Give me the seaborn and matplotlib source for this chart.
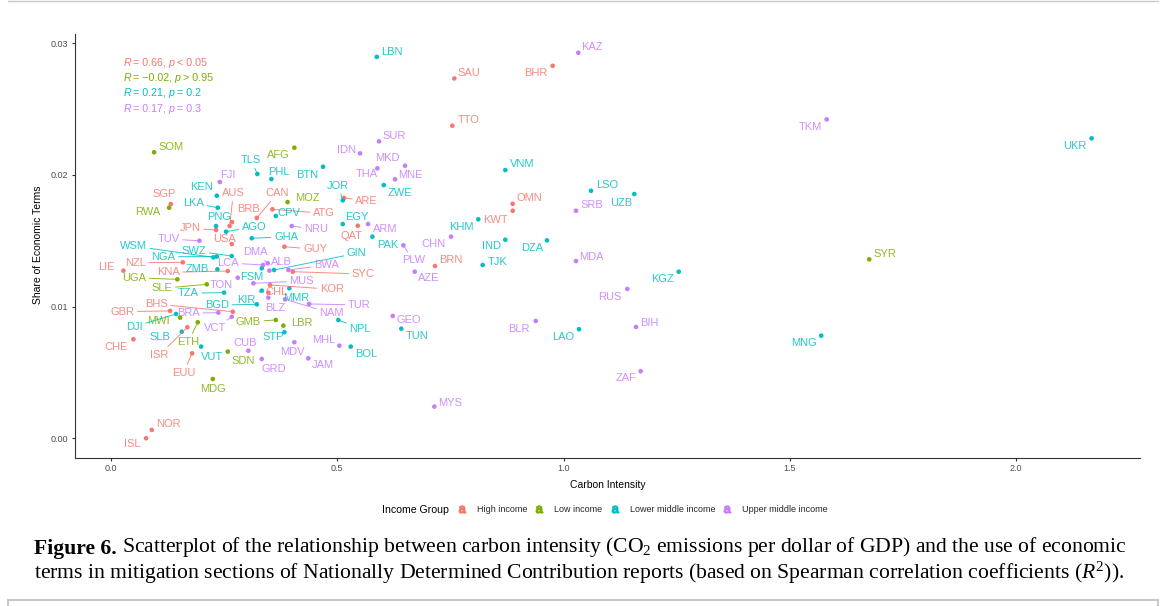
import matplotlib
matplotlib.use("Agg")
import matplotlib.pyplot as plt
import matplotlib.text as mtext
import seaborn as sns
import pandas as pd
from matplotlib.lines import Line2D

# ---------------- data ----------------
high_codes = ["SAU", "BHR", "TTO", "OMN", "KWT", "ARE", "QAT", "BRN", "GUY", "SYC",
              "KOR", "CHL", "CAN", "ATG", "BRB", "AUS", "JPN", "USA", "SGP", "NZL",
              "KNA", "LIE", "BHS", "GBR", "CHE", "ISR", "EUU", "NOR", "ISL"]
high_ci = [0.7587, 0.9761, 0.7543, 0.8877, 0.8877, 0.5149, 0.5452, 0.7160, 0.3830, 0.4015,
           0.3514, 0.3476, 0.3220, 0.3565, 0.2674, 0.2619, 0.2320, 0.2667, 0.1319, 0.1585,
           0.2579, 0.0272, 0.2690, 0.1304, 0.0493, 0.1686, 0.1790, 0.0899, 0.0773]
high_share = [0.02733, 0.02829, 0.02374, 0.01781, 0.01728, 0.01825, 0.01614, 0.01308, 0.01455, 0.01265,
              0.01164, 0.01106, 0.01673, 0.01739, 0.01642, 0.01612, 0.01582, 0.01475, 0.01779, 0.01336,
              0.01270, 0.01273, 0.00961, 0.00967, 0.00752, 0.00843, 0.00645, 0.00063, 0.00000]

low_codes = ["SOM", "AFG", "RWA", "MOZ", "UGA", "SLE", "MWI", "ETH", "GMB", "LBR", "SDN", "MDG", "SYR"]
low_ci = [0.0950, 0.4051, 0.1282, 0.3901, 0.1465, 0.2115, 0.1525, 0.1916, 0.3640, 0.3808, 0.2579, 0.2248, 1.6758]
low_share = [0.02172, 0.02207, 0.01751, 0.01794, 0.01207, 0.01169, 0.00916, 0.00881, 0.00898, 0.00855,
             0.00658, 0.00450, 0.01359]

lmid_codes = ["LBN", "TLS", "PHL", "BTN", "KEN", "LKA", "PNG", "CPV", "AGO", "JOR",
              "EGY", "GHA", "WSM", "NGA", "SWZ", "ZMB", "GIN", "FSM", "TZA", "KIR",
              "BGD", "MMR", "STP", "DJI", "SLB", "VUT", "NPL", "BOL", "TUN", "PAK",
              "ZWE", "VNM", "KHM", "IND", "TJK", "DZA", "LAO", "LSO", "UZB", "KGZ",
              "MNG", "UKR"]
lmid_ci = [0.5872, 0.3233, 0.3543, 0.4685, 0.2336, 0.2358, 0.2320, 0.3640, 0.2541, 0.5120,
           0.5120, 0.3109, 0.2261, 0.2336, 0.2667, 0.2349, 0.3602, 0.3330, 0.2497, 0.3330,
           0.3220, 0.3940, 0.3830, 0.1436, 0.1562, 0.1989, 0.5023, 0.5297, 0.6415, 0.5775,
           0.6027, 0.8714, 0.8117, 0.8714, 0.8214, 0.9635, 1.0343, 1.0608, 1.1565, 1.2546,
           1.5697, 2.1673]
lmid_share = [0.02897, 0.02007, 0.01969, 0.02062, 0.01842, 0.01751, 0.01612, 0.01688, 0.01569, 0.01807,
              0.01627, 0.01519, 0.01374, 0.01380, 0.01384, 0.01283, 0.01278, 0.01291, 0.01106, 0.01121,
              0.01017, 0.01139, 0.00805, 0.00944, 0.00809, 0.00696, 0.00898, 0.00696, 0.00832, 0.01531,
              0.01923, 0.02037, 0.01663, 0.01508, 0.01316, 0.01503, 0.00828, 0.01880, 0.01855, 0.01265,
              0.00779, 0.02278]

umid_codes = ["KAZ", "SUR", "IDN", "THA", "MKD", "MNE", "FJI", "TUV", "NRU", "ARM",
              "CHN", "PLW", "AZE", "DMA", "LCA", "ALB", "BWA", "TON", "MUS", "BLZ",
              "NAM", "TUR", "VCT", "BRA", "CUB", "GRD", "MDV", "MHL", "JAM", "GEO",
              "SRB", "MDA", "BLR", "RUS", "BIH", "ZAF", "TKM", "MYS"]
umid_ci = [1.0327, 0.5923, 0.5503, 0.5885, 0.6497, 0.6276, 0.2402, 0.1951, 0.3993, 0.5680,
           0.7514, 0.6460, 0.6712, 0.3463, 0.3359, 0.3498, 0.3918, 0.2800, 0.3145, 0.3476,
           0.3845, 0.4376, 0.2667, 0.2371, 0.3034, 0.3330, 0.4051, 0.5045, 0.4360, 0.6225,
           1.0276, 1.0276, 0.9386, 1.1410, 1.1602, 1.1706, 1.5817, 0.7145]
umid_share = [0.02928, 0.02255, 0.02164, 0.02050, 0.02070, 0.01967, 0.01946, 0.01500, 0.01612, 0.01627,
              0.01531, 0.01465, 0.01265, 0.01329, 0.01316, 0.01273, 0.01278, 0.01219, 0.01177, 0.01068,
              0.01055, 0.01020, 0.00923, 0.00954, 0.00665, 0.00602, 0.00729, 0.00703, 0.00607, 0.00929,
              0.01728, 0.01346, 0.00891, 0.01134, 0.00845, 0.00509, 0.02422, 0.00240]

groups = ["High income", "Low income", "Lower middle income", "Upper middle income"]
stat_lines = [("0.66", "< 0.05"), ("\u22120.02", "> 0.95"), ("0.21", "= 0.2"), ("0.17", "= 0.3")]

x_ticks = [0.0, 0.5, 1.0, 1.5, 2.0]
x_ticklabels = ["0.0", "0.5", "1.0", "1.5", "2.0"]
y_ticks = [0.00, 0.01, 0.02, 0.03]
y_ticklabels = ["0.00", "0.01", "0.02", "0.03"]

# ---------------- label layout (pixel offsets of label centre from point, y downward) ----------------
label_offsets = {
    "SAU": (14.7, -5.3), "BHR": (-17, 7.6), "TTO": (16, -5.7), "OMN": (16.6, -5.4), "KWT": (-17.7, 9.3),
    "ARE": (22.7, 2.7), "QAT": (-6, 10.3), "BRN": (16, -6), "GUY": (30.7, 2.6), "SYC": (70.6, 2.3),
    "KOR": (61.7, 4.3), "CHL": (8, -1), "CAN": (20.6, -24.7), "ATG": (51.7, 4), "BRB": (16.3, -13),
    "AUS": (3.8, -32.7), "JPN": (-26, -1.7), "USA": (-7.7, -5), "SGP": (-6.4, -9.7), "NZL": (-47.7, 0.4),
    "KNA": (-59.4, 1.3), "LIE": (-16.6, -4), "BHS": (-76.7, -7.7), "GBR": (-47.7, 0.7), "CHE": (-17.6, 7.4),
    "ISR": (-28, 27.7), "EUU": (-8.7, 19.4), "NOR": (16.6, -6), "ISL": (-13.7, 6),
    "SOM": (16.7, -5.6), "AFG": (-16, 7.3), "RWA": (-21.3, 4.6), "MOZ": (19.8, -4.3), "UGA": (-43.3, -1.6),
    "SLE": (-45, 4), "MWI": (-21.7, 3), "ETH": (-9.4, 19.4), "GMB": (-27.4, 1.7), "LBR": (18.4, -2.4),
    "SDN": (15.6, 9), "MDG": (0.6, 10), "SYR": (15.7, -5.3),
    "LBN": (15, -4.4), "TLS": (-6.3, -14), "PHL": (7, -7.3), "BTN": (-16.3, 8.3), "KEN": (-15, -9),
    "LKA": (-24.4, -4.7), "PNG": (3, -8.7), "CPV": (13.3, -2.7), "AGO": (28.3, -5), "JOR": (-4.4, -14.3),
    "EGY": (14, -7.3), "GHA": (34.3, -1.6), "WSM": (-80, -11.3), "NGA": (-53.4, 0.2), "SWZ": (-37.7, -5.3),
    "ZMB": (-20.6, 0), "GIN": (82.7, -16.7), "FSM": (-9.7, 8.4), "TZA": (-35.7, 0.6), "KIR": (-15, 9.3),
    "BGD": (-40, 0.7), "MMR": (7.4, 10), "STP": (-11, 4.4), "DJI": (-41.7, 12.7), "SLB": (-21.7, 5),
    "VUT": (10.7, 10), "NPL": (21.7, 9), "BOL": (15.3, 7.3), "TUN": (15.4, 7), "PAK": (15, 8.3),
    "ZWE": (16.3, 8.3), "VNM": (16.4, -5.7), "KHM": (-16.6, 7.4), "IND": (-14.3, 6.3), "TJK": (14.6, -3.3),
    "DZA": (-15.3, 8), "LAO": (-15.7, 7.4), "LSO": (15.7, -5.7), "UZB": (-13.6, 9.3), "KGZ": (-16, 7.3),
    "MNG": (-17.3, 7.3), "UKR": (-16.7, 7.7),
    "KAZ": (14, -6), "SUR": (15, -5.6), "IDN": (-14, -3.3), "THA": (-10.6, 5.7), "MKD": (-17.3, -7.4),
    "MNE": (15, -4.3), "FJI": (8, -7), "TUV": (-31, -1.7), "NRU": (24.3, 3.3), "ARM": (17, 5),
    "CHN": (-17.7, 7.3), "PLW": (10, 14.7), "AZE": (13.6, 6.6), "DMA": (-12.7, -11), "LCA": (-34.7, -2),
    "ALB": (12.4, -9), "BWA": (38.4, -5), "TON": (-16, 7.3), "MUS": (48.4, -2.3), "BLZ": (6.7, 10.6),
    "NAM": (46.7, 14), "TUR": (50.3, 1), "VCT": (-16.7, 11.6), "BRA": (-30, 0.6), "CUB": (-3.3, -7.4),
    "GRD": (11.6, 10), "MDV": (-1.6, 9.4), "MHL": (-16, -5.7), "JAM": (14.4, 6.7), "GEO": (15.6, 4),
    "SRB": (15.7, -5.7), "MDA": (15, -4.3), "BLR": (-16.7, 8), "RUS": (-17.3, 7.7), "BIH": (13, -4.3),
    "ZAF": (-14.7, 7), "TKM": (-16.7, 7.4), "MYS": (15.7, -4),
}
segment_codes = {"ARE", "GUY", "SYC", "KOR", "CAN", "ATG", "AUS", "JPN", "NZL", "KNA", "BHS", "GBR",
                 "ISR", "EUU", "UGA", "SLE", "ETH", "GMB", "TLS", "LKA", "AGO", "JOR", "GHA", "WSM",
                 "NGA", "SWZ", "GIN", "TZA", "KIR", "BGD", "DJI", "NPL", "TUV", "NRU", "PLW", "DMA",
                 "LCA", "BWA", "MUS", "NAM", "TUR", "VCT", "BRA"}

palette = {"High income": "#F8766D", "Low income": "#7CAE00",
           "Lower middle income": "#00BFC4", "Upper middle income": "#C77CFF"}

# ---------------- build dataframe ----------------
frames = []
for g, c, xv, yv in zip(groups,
                        [high_codes, low_codes, lmid_codes, umid_codes],
                        [high_ci, low_ci, lmid_ci, umid_ci],
                        [high_share, low_share, lmid_share, umid_share]):
    frames.append(pd.DataFrame({"code": c, "ci": xv, "share": yv, "group": g}))
df = pd.concat(frames, ignore_index=True)

# ---------------- style ----------------
sns.set_style("ticks")
plt.rcParams["font.family"] = ["Liberation Sans", "DejaVu Sans"]
plt.rcParams["mathtext.fontset"] = "custom"
plt.rcParams["mathtext.rm"] = "Liberation Serif"
plt.rcParams["mathtext.it"] = "Liberation Serif:italic"
plt.rcParams["mathtext.bf"] = "Liberation Serif:bold"
plt.rcParams["mathtext.sf"] = "Liberation Sans"

W, H = 1167, 606
fig = plt.figure(figsize=(W / 100, H / 100), dpi=100)
fig.patch.set_facecolor("white")
ax_l, ax_r, ax_t, ax_b = 75, 1140, 33.5, 457.5
ax = fig.add_axes([ax_l / W, 1 - ax_b / H, (ax_r - ax_l) / W, (ax_b - ax_t) / H])

sns.scatterplot(data=df, x="ci", y="share", hue="group", palette=palette, s=11,
                linewidth=0, legend=False, ax=ax, zorder=3)

# ggplot-like 5% expansion
xmin, xmax = df["ci"].min(), df["ci"].max()
ymin, ymax = df["share"].min(), df["share"].max()
ax.set_xlim(xmin - 0.05 * (xmax - xmin), xmax + 0.05 * (xmax - xmin))
ax.set_ylim(ymin - 0.05 * (ymax - ymin), ymax + 0.05 * (ymax - ymin))

sns.despine(ax=ax)
for sp in ["left", "bottom"]:
    ax.spines[sp].set_color("#333333")
    ax.spines[sp].set_linewidth(0.8)
ax.set_xticks(x_ticks)
ax.set_xticklabels(x_ticklabels)
ax.set_yticks(y_ticks)
ax.set_yticklabels(y_ticklabels)
ax.tick_params(axis="both", length=2.5, width=0.8, color="#333333", labelcolor="#4D4D4D",
               labelsize=6.5, pad=2.5)
ax.set_xlabel("Carbon Intensity", fontsize=7.5, color="black")
ax.set_ylabel("Share of Economic Terms", fontsize=7.5, color="black")
ax.xaxis.set_label_coords((607.5 - ax_l) / (ax_r - ax_l), (ax_b - 480) / (ax_b - ax_t))
ax.yaxis.set_label_coords((43 - ax_l) / (ax_r - ax_l), (ax_b - 245) / (ax_b - ax_t))

# ---------------- point labels ----------------
for _, row in df.iterrows():
    col = palette[row["group"]]
    dx, dy = label_offsets[row["code"]]
    kw = dict(xy=(row["ci"], row["share"]), xytext=(dx, -dy), textcoords="offset pixels",
              ha="center", va="center", fontsize=8, color=col, alpha=0.85, zorder=4)
    if row["code"] in segment_codes:
        kw["arrowprops"] = dict(arrowstyle="-", color=col, lw=0.7, shrinkA=0, shrinkB=0, alpha=0.85)
    ax.annotate(row["code"], **kw)


# ---------------- helper: run of text pieces with mixed styles ----------------
def chain_text(x_px, y_px, pieces, size, color, family=None):
    kw = dict(fontsize=size, color=color)
    if family:
        kw["family"] = family
    t0, st0, wt0, _ = pieces[0]
    prev = fig.text(x_px / W, 1 - y_px / H, t0, ha="left", va="baseline", style=st0, weight=wt0, **kw)
    for txt, st, wt, gap in pieces[1:]:
        prev = fig.add_artist(mtext.Annotation(
            txt, xy=(1, 0), xycoords=prev, xytext=(gap, 0), textcoords="offset pixels",
            ha="left", va="bottom", style=st, weight=wt, annotation_clip=False, **kw))
    return prev


# ---------------- correlation statistics ----------------
sp = 2.4
stat_y = [65.5, 80.8, 95.9, 111.5]
for g, (r, p), yy in zip(groups, stat_lines, stat_y):
    chain_text(123.3, yy, [("R", "italic", "normal", 0), ("= " + r + ",", "normal", "normal", sp),
                           ("p", "italic", "normal", sp), (p, "normal", "normal", sp)],
               7.7, palette[g])

# ---------------- legend ----------------
fig.text(382.3 / W, 1 - 510 / H, "Income Group", ha="left", va="center", fontsize=7.6, color="black")
handles = [Line2D([], [], marker=r"$\mathsf{a}$", linestyle="none", color=palette[g], markersize=5)
           for g in groups]
fig.legend(handles, groups, loc="center left", bbox_to_anchor=(457.2 / W, 1 - 510 / H),
           ncol=4, frameon=False, fontsize=6.5, handlelength=1.0, handletextpad=1.16,
           columnspacing=0.85, borderpad=0, borderaxespad=0)

# ---------------- caption ----------------
cap_fs = 15.6
chain_text(34, 554, [("Figure 6.", "normal", "bold", 0),
                     ("Scatterplot of the relationship between carbon intensity (CO$_2$ emissions per dollar "
                      "of GDP) and the use of economic", "normal", "normal", 5.5)],
           cap_fs, "black", family="Liberation Serif")
fig.text(34 / W, 1 - 579 / H,
         "terms in mitigation sections of Nationally Determined Contribution reports (based on Spearman "
         "correlation coefficients ($R^2$)).",
         ha="left", va="baseline", fontsize=cap_fs, color="black", family="Liberation Serif")

# ---------------- page frame ----------------
frame_col = "#C8C8C8"
fig.add_artist(Line2D([8 / W, 8 / W], [0, 1 - 600 / H], color=frame_col, lw=1.5))
fig.add_artist(Line2D([1158 / W, 1158 / W], [0, 1 - 600 / H], color=frame_col, lw=1.5))
fig.add_artist(Line2D([8 / W, 1158 / W], [1 - 600 / H, 1 - 600 / H], color=frame_col, lw=1.5))
fig.add_artist(Line2D([8 / W, 1158 / W], [1 - 1 / H, 1 - 1 / H], color=frame_col, lw=1.0))

fig.savefig("out.png", dpi=100, facecolor="white")
